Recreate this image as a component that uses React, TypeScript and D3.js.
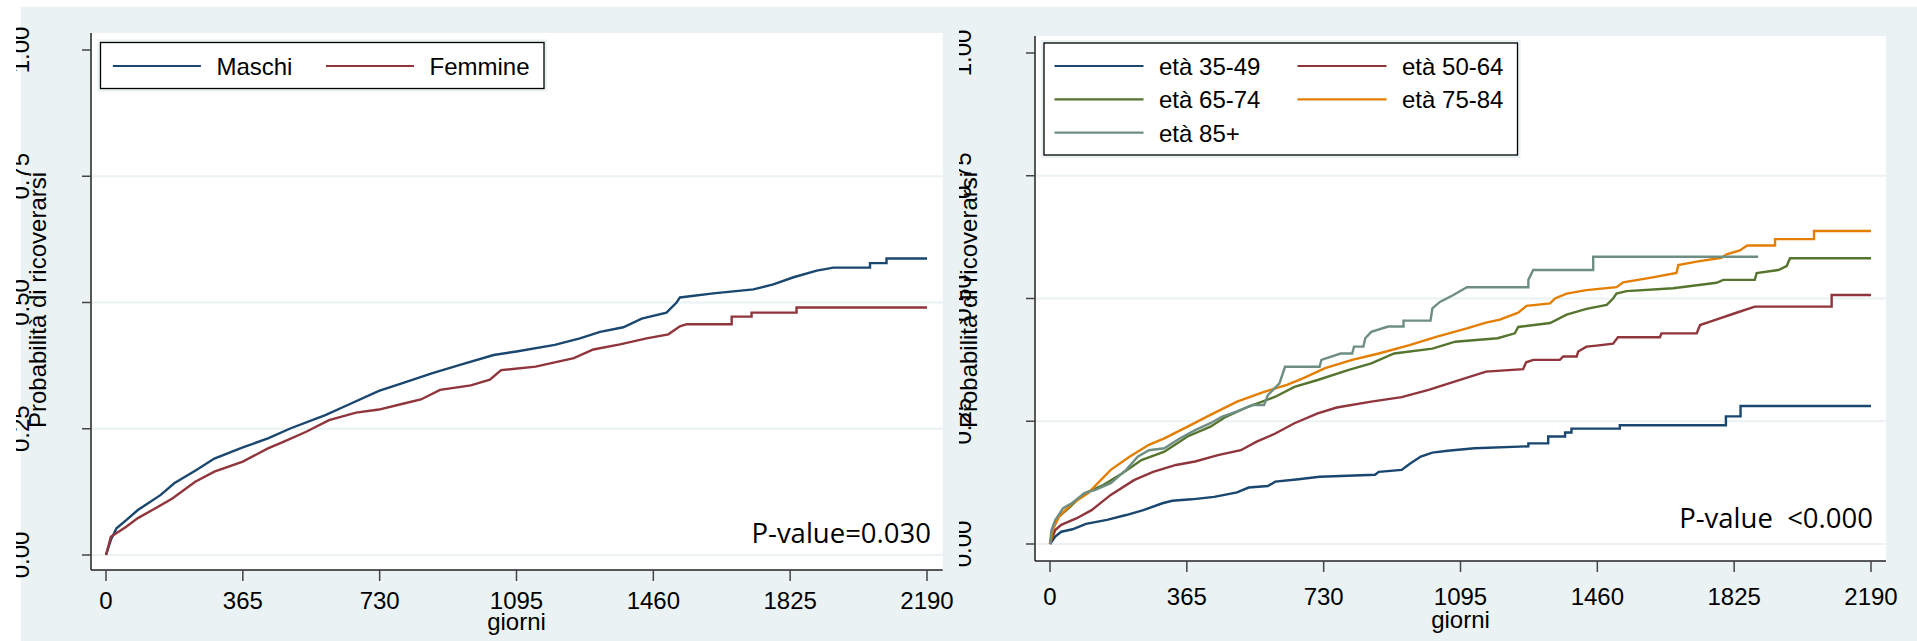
import React, { useEffect, useRef } from 'react';
import * as d3 from 'd3';

const giorniTicks = [0, 365, 730, 1095, 1460, 1825, 2190];
const probTicks = [0, 0.25, 0.5, 0.75, 1];
const probTickLabels = ['0.00', '0.25', '0.50', '0.75', '1.00'];
const gridTicks = [0, 0.25, 0.5, 0.75];

const sessoLabels = ['Maschi', 'Femmine'];
const maschi = [[0,0],[13,0.03],[28,0.053],[54,0.069],[85,0.089],[146,0.119],[182,0.142],[240,0.168],[289,0.191],[365,0.213],[432,0.231],[493,0.251],[585,0.277],[636,0.294],[728,0.325],[789,0.34],[871,0.36],[942,0.376],[1034,0.396],[1095,0.403],[1197,0.416],[1264,0.429],[1318,0.442],[1380,0.451],[1429,0.468],[1495,0.48],[1522,0.5],[1531,0.51],[1620,0.518],[1727,0.526],[1780,0.536],[1834,0.55],[1896,0.563],[1940,0.569],[2038,0.569],[2038,0.578],[2082,0.578],[2082,0.587],[2190,0.587]];
const femmine = [[0,0],[13,0.036],[54,0.056],[85,0.073],[126,0.09],[177,0.112],[238,0.145],[289,0.165],[365,0.185],[432,0.211],[473,0.224],[534,0.244],[595,0.267],[667,0.282],[728,0.288],[789,0.299],[840,0.308],[891,0.327],[973,0.336],[1024,0.347],[1054,0.366],[1146,0.373],[1248,0.39],[1300,0.407],[1371,0.417],[1442,0.429],[1500,0.437],[1531,0.453],[1549,0.457],[1669,0.457],[1669,0.472],[1722,0.472],[1722,0.48],[1842,0.48],[1842,0.49],[2190,0.49]];

const etaLabels = ['età 35-49', 'età 50-64', 'età 65-74', 'età 75-84', 'età 85+'];
const eta3549 = [[0,0],[14,0.015],[30,0.025],[60,0.03],[96,0.041],[152,0.049],[203,0.059],[249,0.069],[300,0.083],[326,0.088],[377,0.091],[438,0.096],[499,0.105],[530,0.115],[581,0.118],[601,0.127],[663,0.132],[719,0.137],[867,0.141],[877,0.147],[938,0.151],[959,0.163],[989,0.178],[1020,0.186],[1061,0.19],[1132,0.195],[1276,0.199],[1276,0.205],[1329,0.205],[1329,0.219],[1374,0.219],[1374,0.227],[1391,0.227],[1391,0.235],[1520,0.235],[1520,0.242],[1803,0.242],[1803,0.26],[1842,0.26],[1842,0.281],[2190,0.281]];
const eta5064 = [[0,0],[14,0.0285],[30,0.039],[70,0.052],[111,0.069],[162,0.1],[224,0.13],[275,0.147],[336,0.161],[387,0.168],[448,0.181],[509,0.191],[550,0.208],[601,0.225],[652,0.246],[714,0.266],[765,0.278],[857,0.29],[938,0.299],[1010,0.314],[1081,0.331],[1163,0.351],[1262,0.356],[1270,0.37],[1289,0.375],[1360,0.375],[1369,0.382],[1405,0.382],[1409,0.392],[1431,0.402],[1458,0.404],[1502,0.408],[1515,0.421],[1627,0.421],[1631,0.429],[1725,0.429],[1734,0.446],[1765,0.454],[1831,0.471],[1880,0.4835],[2085,0.4835],[2085,0.507],[2190,0.507]];
const eta6574 = [[0,0],[9,0.035],[24,0.056],[50,0.073],[91,0.103],[142,0.12],[193,0.144],[244,0.171],[305,0.188],[367,0.219],[428,0.239],[469,0.259],[530,0.28],[601,0.3],[652,0.32],[714,0.334],[795,0.354],[857,0.368],[918,0.388],[1020,0.398],[1081,0.412],[1194,0.419],[1240,0.429],[1249,0.442],[1334,0.45],[1378,0.467],[1431,0.479],[1485,0.487],[1502,0.5],[1511,0.51],[1538,0.515],[1662,0.521],[1778,0.532],[1796,0.538],[1880,0.538],[1885,0.552],[1943,0.558],[1965,0.566],[1974,0.582],[2190,0.582]];
const eta7584 = [[0,0],[7,0.0285],[24,0.056],[60,0.083],[101,0.103],[162,0.151],[213,0.178],[264,0.202],[305,0.215],[367,0.239],[428,0.263],[499,0.29],[571,0.31],[632,0.324],[673,0.337],[734,0.358],[806,0.375],[877,0.388],[959,0.405],[1030,0.422],[1112,0.439],[1163,0.451],[1200,0.457],[1249,0.471],[1271,0.485],[1334,0.49],[1347,0.5],[1378,0.51],[1431,0.517],[1511,0.523],[1529,0.533],[1600,0.542],[1671,0.552],[1676,0.568],[1725,0.575],[1791,0.583],[1805,0.59],[1840,0.598],[1860,0.608],[1934,0.608],[1934,0.621],[2038,0.621],[2038,0.6375],[2190,0.6375]];
const eta85 = [[0,0],[4,0.0285],[14,0.049],[35,0.073],[60,0.084],[91,0.103],[121,0.11],[162,0.124],[203,0.151],[234,0.178],[264,0.191],[305,0.195],[346,0.215],[387,0.232],[428,0.246],[458,0.259],[499,0.27],[540,0.283],[571,0.283],[581,0.303],[612,0.327],[627,0.361],[719,0.361],[724,0.375],[775,0.388],[806,0.388],[811,0.402],[836,0.402],[841,0.419],[857,0.432],[902,0.443],[943,0.443],[943,0.455],[1015,0.455],[1020,0.48],[1040,0.493],[1076,0.507],[1112,0.523],[1276,0.523],[1276,0.538],[1289,0.558],[1449,0.558],[1449,0.585],[1889,0.585]];

const pValues = ['P-value=0.030', 'P-value  <0.000'];

// stata s2color
const BG = '#eaf2f3';
const colors = ['#1a476f', '#90353b', '#55752f', '#e37e00', '#6e8e84'];
const FONT = "'Liberation Sans', Arial, sans-serif";

const panels = [
  {
    id: 'sesso', labels: sessoLabels, series: [maschi, femmine], pvalue: pValues[0],
    plot: { x0: 91, x1: 942.7, y0: 33, y1: 570 },
    xRange: [106, 927], yRange: [555, 50],
    yLabelX: 28.5, yClipX: 16, titleX: 46, titleY: 300,
    xLabelY: 609, giorniY: 630, pX: 931, pY: 543,
    legendBox: { x: 100.5, y: 42.5, w: 443.5, h: 46 },
    legendCols: [112.9, 326], legendRows: [66], lineLen: 88,
  },
  {
    id: 'eta', labels: etaLabels, series: [eta3549, eta5064, eta6574, eta7584, eta85], pvalue: pValues[1],
    plot: { x0: 1035, x1: 1886, y0: 36, y1: 561 },
    xRange: [1050, 1871], yRange: [544, 53],
    yLabelX: 970.5, yClipX: 959, titleX: 977, titleY: 300,
    xLabelY: 605, giorniY: 628, pX: 1873, pY: 528,
    legendBox: { x: 1044, y: 43, w: 473.5, h: 112 },
    legendCols: [1054.5, 1297.5], legendRows: [66, 99.3, 132.7], lineLen: 89,
  },
];

function drawPanel(svg: any, p: any) {
  const x = d3.scaleLinear().domain([0, 2190]).range(p.xRange);
  const y = d3.scaleLinear().domain([0, 1]).range(p.yRange);
  const g = svg.append('g').attr('class', p.id);

  // plot region
  g.append('rect')
    .attr('x', p.plot.x0).attr('y', p.plot.y0)
    .attr('width', p.plot.x1 - p.plot.x0).attr('height', p.plot.y1 - p.plot.y0)
    .attr('fill', '#fff');

  g.selectAll('.grid').data(gridTicks).enter().append('line')
    .attr('x1', p.plot.x0).attr('x2', p.plot.x1)
    .attr('y1', (d: number) => y(d)).attr('y2', (d: number) => y(d))
    .attr('stroke', BG).attr('stroke-width', 2);

  const line = d3.line<number[]>()
    .x(d => x(d[0]))
    .y(d => y(d[1]));

  p.series.forEach((s: number[][], i: number) => {
    g.append('path')
      .datum(s)
      .attr('d', line)
      .attr('fill', 'none')
      .attr('stroke', colors[i])
      .attr('stroke-width', 2.4)
      .attr('stroke-linejoin', 'miter');
  });

  // legend
  const lb = p.legendBox;
  g.append('rect').attr('x', lb.x - 3).attr('y', lb.y - 3).attr('width', lb.w + 6).attr('height', lb.h + 6).attr('fill', BG);
  g.append('rect').attr('x', lb.x).attr('y', lb.y).attr('width', lb.w).attr('height', lb.h)
    .attr('fill', '#fff').attr('stroke', '#000').attr('stroke-width', 1.3);
  p.labels.forEach((lab: string, i: number) => {
    const cx = p.legendCols[i % 2];
    const cy = p.legendRows[Math.floor(i / 2)];
    g.append('line').attr('x1', cx).attr('x2', cx + p.lineLen).attr('y1', cy).attr('y2', cy)
      .attr('stroke', colors[i]).attr('stroke-width', 2.2);
    g.append('text').attr('x', cx + p.lineLen + 15.5).attr('y', cy + 9)
      .attr('font-family', FONT).attr('font-size', 24).attr('fill', '#000').text(lab);
  });

  // axes
  g.append('line').attr('x1', p.plot.x0).attr('x2', p.plot.x0).attr('y1', p.plot.y0).attr('y2', p.plot.y1)
    .attr('stroke', '#222').attr('stroke-width', 1.5);
  g.append('line').attr('x1', p.plot.x0).attr('x2', p.plot.x1).attr('y1', p.plot.y1).attr('y2', p.plot.y1)
    .attr('stroke', '#222').attr('stroke-width', 1.5);

  g.selectAll('.ytick').data(probTicks).enter().append('line')
    .attr('x1', p.plot.x0 - 9).attr('x2', p.plot.x0)
    .attr('y1', (d: number) => y(d)).attr('y2', (d: number) => y(d))
    .attr('stroke', '#444').attr('stroke-width', 1.5);
  g.selectAll('.xtick').data(giorniTicks).enter().append('line')
    .attr('x1', (d: number) => x(d)).attr('x2', (d: number) => x(d))
    .attr('y1', p.plot.y1).attr('y2', p.plot.y1 + 11)
    .attr('stroke', '#444').attr('stroke-width', 1.5);

  // y tick labels, cut on the left like in the original
  const clipId = 'clip-' + p.id;
  svg.append('clipPath').attr('id', clipId).append('rect')
    .attr('x', p.yClipX).attr('y', 0).attr('width', 200).attr('height', 641);
  const yl = g.append('g').attr('clip-path', `url(#${clipId})`);
  yl.selectAll('text').data(probTicks).enter().append('text')
    .attr('transform', (d: number) => `translate(${p.yLabelX},${y(d)}) rotate(-90)`)
    .attr('text-anchor', 'middle')
    .attr('font-family', FONT).attr('font-size', 24).attr('fill', '#000')
    .text((d: number, i: number) => probTickLabels[i]);

  g.append('text')
    .attr('transform', `translate(${p.titleX},${p.titleY}) rotate(-90)`)
    .attr('text-anchor', 'middle')
    .attr('font-family', FONT).attr('font-size', 24).attr('fill', '#000')
    .text('Probabilità di ricoverarsi');

  g.selectAll('.xlab').data(giorniTicks).enter().append('text')
    .attr('x', (d: number) => x(d)).attr('y', p.xLabelY)
    .attr('text-anchor', 'middle')
    .attr('font-family', FONT).attr('font-size', 24).attr('fill', '#000')
    .text((d: number) => String(d));

  g.append('text')
    .attr('x', (p.xRange[0] + p.xRange[1]) / 2).attr('y', p.giorniY)
    .attr('text-anchor', 'middle')
    .attr('font-family', FONT).attr('font-size', 24).attr('fill', '#000')
    .text('giorni');

  g.append('text')
    .attr('x', p.pX).attr('y', p.pY)
    .attr('text-anchor', 'end')
    .style('white-space', 'pre')
    .attr('font-family', "'Open Sans', 'Noto Sans', sans-serif").attr('font-size', 27.5).attr('fill', '#000')
    .text(p.pvalue);
}

export default function App() {
  const ref = useRef<SVGSVGElement>(null);

  useEffect(() => {
    const svg = d3.select(ref.current);
    svg.selectAll('*').remove();
    svg.append('rect').attr('x', 0).attr('y', 0).attr('width', 1917).attr('height', 641).attr('fill', '#fff');
    svg.append('rect').attr('x', 20.7).attr('y', 6.7).attr('width', 1917 - 20.7).attr('height', 641 - 6.7).attr('fill', BG);
    panels.forEach(p => drawPanel(svg, p));
  }, []);

  return (
    <svg ref={ref} width={1917} height={641} style={{ position: 'absolute', left: 0, top: 0 }} />
  );
}
